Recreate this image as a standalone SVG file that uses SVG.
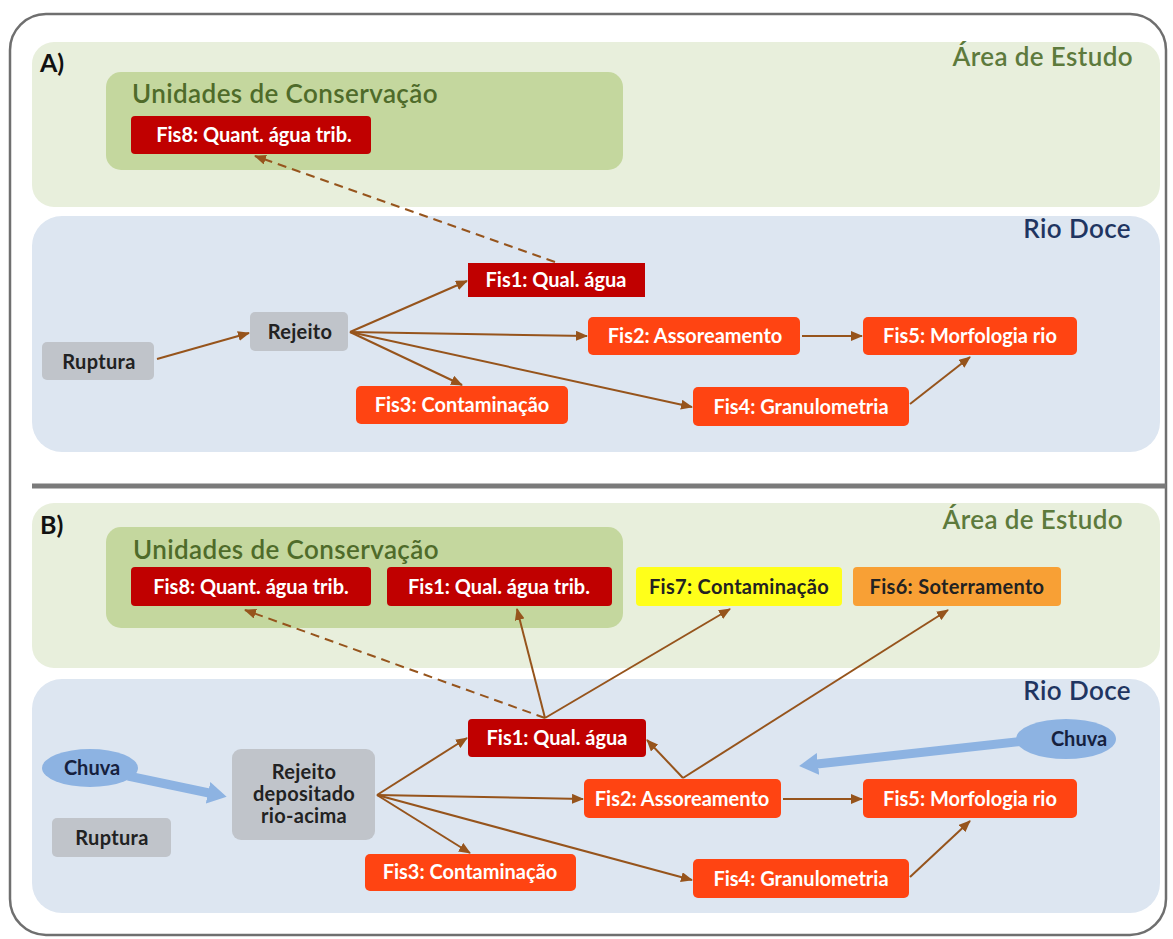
<svg xmlns="http://www.w3.org/2000/svg" width="1173" height="939" viewBox="0 0 1173 939">
<defs>
<style>
.frame{fill:#fff;stroke:#6f6f6f;stroke-width:2.5}
.area{fill:#e8efdc}
.uc{fill:#c4d79e}
.rio{fill:#dde6f1}
.red{fill:#c00000}
.org{fill:#ff4412}
.gray{fill:#c0c4ca}
.yel{fill:#ffff1a}
.amb{fill:#f8a035}
.chuva{fill:#8db3e2}
.t{font-family:Lato,"Open Sans","Liberation Sans",sans-serif;font-weight:700;font-size:20px;text-anchor:middle}
.tw{fill:#ffffff}
.tk{fill:#222222;letter-spacing:0.3px}
.title{font-family:Lato,"Open Sans","Liberation Sans",sans-serif;font-weight:600;font-size:26px;letter-spacing:0.4px}
.lbl{font-family:Lato,"Open Sans","Liberation Sans",sans-serif;font-weight:700;font-size:25px;fill:#111}
.c{fill:none;stroke:#96541c;stroke-width:2}
.d{stroke-dasharray:9,6}
.blue{fill:none;stroke:#8db3e2;stroke-width:9}
</style>
<marker id="ah" markerUnits="userSpaceOnUse" markerWidth="12" markerHeight="10" refX="11" refY="5" orient="auto">
<path d="M0,0 L12,5 L0,10 z" fill="#96541c"/>
</marker>
<marker id="bh" markerUnits="userSpaceOnUse" markerWidth="20" markerHeight="22" refX="1" refY="11" orient="auto">
<path d="M0,0 L19,11 L0,22 z" fill="#8db3e2"/>
</marker>
</defs>

<rect class="frame" x="10" y="14" width="1156" height="921" rx="36"/>

<!-- Section A panels -->
<g id="panelA-area"><rect class="area" x="32" y="42" width="1128" height="165" rx="22"/>
<text class="title" x="1133" y="66" text-anchor="end" fill="#5d7a3c">Área de Estudo</text></g>
<g id="panelA-uc"><rect class="uc" x="106" y="72" width="517" height="98" rx="15"/>
<text class="title" x="132" y="103" fill="#4f6b2a">Unidades de Conservação</text></g>
<g id="panelA-rio"><rect class="rio" x="32" y="216" width="1128" height="236" rx="30"/>
<text class="title" x="1131" y="238" text-anchor="end" fill="#1f3561" font-weight="700">Rio Doce</text></g>
<text class="lbl" x="40" y="72">A)</text>

<line x1="32" y1="486" x2="1166" y2="486" stroke="#7a7a7a" stroke-width="5"/>

<!-- Section B panels -->
<g id="panelB-area"><rect class="area" x="32" y="503" width="1128" height="165" rx="22"/>
<text class="title" x="1123" y="529" text-anchor="end" fill="#5d7a3c">Área de Estudo</text></g>
<g id="panelB-uc"><rect class="uc" x="106" y="527" width="517" height="101" rx="15"/>
<text class="title" x="133" y="559" fill="#4f6b2a">Unidades de Conservação</text></g>
<g id="panelB-rio"><rect class="rio" x="32" y="679" width="1128" height="234" rx="30"/>
<text class="title" x="1131" y="700" text-anchor="end" fill="#1f3561" font-weight="700">Rio Doce</text></g>
<text class="lbl" x="40" y="534">B)</text>

<!-- Connectors -->
<g id="connectors">
<line class="c" x1="157" y1="359" x2="249" y2="333" marker-end="url(#ah)"/>
<line class="c" x1="350" y1="332" x2="467" y2="281" marker-end="url(#ah)"/>
<line class="c" x1="350" y1="332" x2="587" y2="336" marker-end="url(#ah)"/>
<line class="c" x1="350" y1="332" x2="462" y2="385" marker-end="url(#ah)"/>
<line class="c" x1="350" y1="332" x2="692" y2="407" marker-end="url(#ah)"/>
<line class="c" x1="802" y1="336" x2="862" y2="336" marker-end="url(#ah)"/>
<line class="c" x1="910" y1="404" x2="970" y2="357" marker-end="url(#ah)"/>
<line class="c d" x1="555" y1="262" x2="255" y2="156" marker-end="url(#ah)"/>

<line class="c" x1="377" y1="795" x2="467" y2="738" marker-end="url(#ah)"/>
<line class="c" x1="377" y1="795" x2="583" y2="799" marker-end="url(#ah)"/>
<line class="c" x1="377" y1="795" x2="470" y2="853" marker-end="url(#ah)"/>
<line class="c" x1="377" y1="795" x2="692" y2="880" marker-end="url(#ah)"/>
<line class="c" x1="783" y1="799" x2="862" y2="799" marker-end="url(#ah)"/>
<line class="c" x1="910" y1="877" x2="970" y2="821" marker-end="url(#ah)"/>
<line class="c" x1="683" y1="778" x2="647" y2="740" marker-end="url(#ah)"/>
<line class="c" x1="683" y1="778" x2="948" y2="610" marker-end="url(#ah)"/>
<line class="c" x1="545" y1="718" x2="517" y2="609" marker-end="url(#ah)"/>
<line class="c" x1="545" y1="718" x2="730" y2="609" marker-end="url(#ah)"/>
<line class="c d" x1="545" y1="718" x2="245" y2="610" marker-end="url(#ah)"/>

<line class="blue" x1="128" y1="776" x2="209" y2="793" marker-end="url(#bh)"/>
<line class="blue" x1="1025" y1="741" x2="817" y2="764" marker-end="url(#bh)"/>
</g>

<!-- Section A nodes -->
<g id="A-fis8"><rect class="red" x="131" y="116" width="240" height="38" rx="4"/><text class="t tw" x="254" y="142">Fis8: Quant. água trib.</text></g>
<g id="A-fis1"><rect class="red" x="468" y="263" width="177" height="34"/><text class="t tw" x="556" y="287">Fis1: Qual. água</text></g>
<g id="A-rejeito"><rect class="gray" x="250" y="312" width="98" height="39" rx="5"/><text class="t tk" x="300" y="339">Rejeito</text></g>
<g id="A-ruptura"><rect class="gray" x="42" y="342" width="112" height="38" rx="5"/><text class="t tk" x="99" y="369">Ruptura</text></g>
<g id="A-fis2"><rect class="org" x="588" y="317" width="212" height="38" rx="5"/><text class="t tw" x="695" y="343">Fis2: Assoreamento</text></g>
<g id="A-fis5"><rect class="org" x="863" y="317" width="214" height="38" rx="5"/><text class="t tw" x="970" y="343">Fis5: Morfologia rio</text></g>
<g id="A-fis3"><rect class="org" x="356" y="386" width="212" height="38" rx="5"/><text class="t tw" x="462" y="412">Fis3: Contaminação</text></g>
<g id="A-fis4"><rect class="org" x="693" y="387" width="216" height="39" rx="5"/><text class="t tw" x="801" y="414">Fis4: Granulometria</text></g>

<!-- Section B nodes -->
<g id="B-fis8"><rect class="red" x="131" y="567" width="240" height="39" rx="4"/><text class="t tw" x="251" y="594">Fis8: Quant. água trib.</text></g>
<g id="B-fis1trib"><rect class="red" x="387" y="567" width="225" height="39" rx="4"/><text class="t tw" x="499" y="594">Fis1: Qual. água trib.</text></g>
<g id="B-fis7"><rect class="yel" x="636" y="567" width="206" height="39" rx="4"/><text class="t tk" x="739" y="594">Fis7: Contaminação</text></g>
<g id="B-fis6"><rect class="amb" x="853" y="567" width="208" height="39" rx="4"/><text class="t tk" x="957" y="594">Fis6: Soterramento</text></g>
<g id="B-chuva1"><ellipse class="chuva" cx="90" cy="768" rx="48" ry="19"/><text class="t" x="92" y="775" fill="#16213e">Chuva</text></g>
<g id="B-chuva2"><ellipse class="chuva" cx="1066" cy="739" rx="50" ry="20"/><text class="t" x="1079" y="746" fill="#16213e">Chuva</text></g>
<g id="B-rejeito"><rect class="gray" x="232" y="749" width="143" height="91" rx="9"/>
<text class="t tk" x="304" y="779">Rejeito</text><text class="t tk" x="304" y="801">depositado</text><text class="t tk" x="304" y="823">rio-acima</text></g>
<g id="B-ruptura"><rect class="gray" x="52" y="818" width="119" height="39" rx="5"/><text class="t tk" x="112" y="845">Ruptura</text></g>
<g id="B-fis1"><rect class="red" x="468" y="719" width="178" height="38" rx="4"/><text class="t tw" x="557" y="745">Fis1: Qual. água</text></g>
<g id="B-fis2"><rect class="org" x="584" y="779" width="197" height="39" rx="5"/><text class="t tw" x="682" y="806">Fis2: Assoreamento</text></g>
<g id="B-fis5"><rect class="org" x="863" y="779" width="214" height="39" rx="5"/><text class="t tw" x="970" y="806">Fis5: Morfologia rio</text></g>
<g id="B-fis3"><rect class="org" x="365" y="854" width="211" height="37" rx="5"/><text class="t tw" x="470" y="879">Fis3: Contaminação</text></g>
<g id="B-fis4"><rect class="org" x="693" y="859" width="216" height="39" rx="5"/><text class="t tw" x="801" y="886">Fis4: Granulometria</text></g>
</svg>
